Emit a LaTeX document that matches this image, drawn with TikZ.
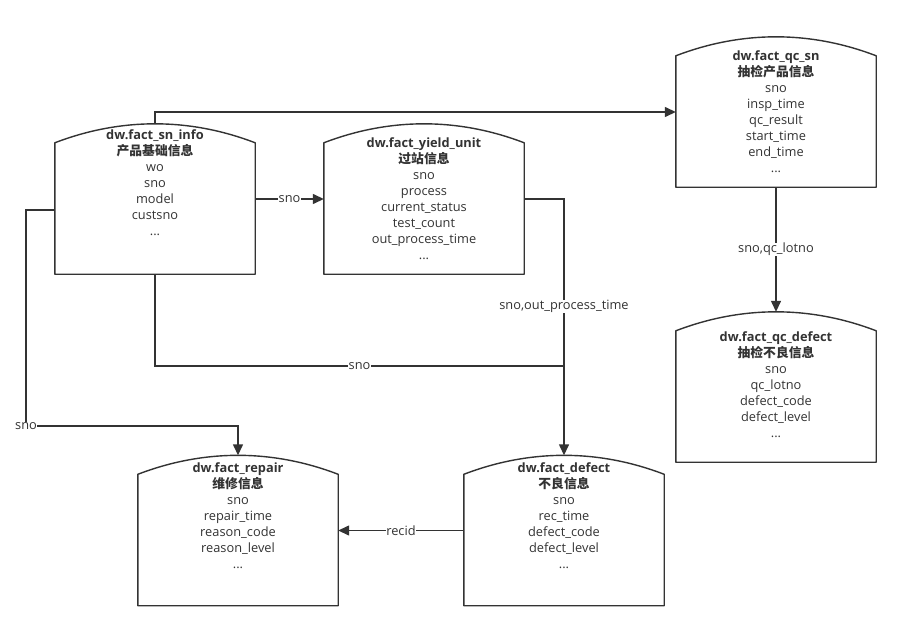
\documentclass[tikz,border=0pt]{standalone}
\usepackage{fontspec}
\setmainfont{Open Sans}
\newfontfamily\cjk{Noto Sans CJK SC}
\usepackage{tikz}
\usetikzlibrary{arrows.meta,calc}
\definecolor{linegray}{HTML}{333333}
\definecolor{txtgray}{HTML}{333333}
\newcommand{\tblfont}{\fontsize{12.8}{16}\selectfont}

\begin{document}
\begin{tikzpicture}[x=1pt,y=-1pt,
  tbl/.style={minimum width=200pt,minimum height=150pt,inner sep=0pt},
  tbltext/.style={anchor=north,align=center,inner sep=0pt,font=\tblfont,text=txtgray},
  tblline/.style={draw=linegray,line width=1.4pt,line join=round},
  wire/.style={draw=linegray,line width=1.4pt},
  conn/.style={wire,-{Triangle[length=11pt,width=10pt]}},
  lbl/.style={fill=white,inner sep=0.5pt,font=\tblfont,text=txtgray}]
\fill[white] (0,0) rectangle (901,631);
\useasboundingbox (0,0) rectangle (901,631);

\node[tbl,label={[tbltext,yshift=-6pt]north:{\textbf{dw.fact\_sn\_info}\\{\cjk\bfseries 产品基础信息}\\wo\\sno\\model\\custsno\\...}}] (sninfo) at (155,199) {};
\node[tbl,label={[tbltext,yshift=-14pt]north:{\textbf{dw.fact\_yield\_unit}\\{\cjk\bfseries 过站信息}\\sno\\process\\current\_status\\test\_count\\out\_process\_time\\...}}] (yield) at (424,199) {};
\node[tbl,label={[tbltext,yshift=-14pt]north:{\textbf{dw.fact\_qc\_sn}\\{\cjk\bfseries 抽检产品信息}\\sno\\insp\_time\\qc\_result\\start\_time\\end\_time\\...}}] (qcsn) at (776,112) {};
\node[tbl,label={[tbltext,yshift=-20pt]north:{\textbf{dw.fact\_qc\_defect}\\{\cjk\bfseries 抽检不良信息}\\sno\\qc\_lotno\\defect\_code\\defect\_level\\...}}] (qcdefect) at (776,387) {};
\node[tbl,label={[tbltext,yshift=-7.5pt]north:{\textbf{dw.fact\_repair}\\{\cjk\bfseries 维修信息}\\sno\\repair\_time\\reason\_code\\reason\_level\\...}}] (repair) at (238,530.5) {};
\node[tbl,label={[tbltext,yshift=-7pt]north:{\textbf{dw.fact\_defect}\\{\cjk\bfseries 不良信息}\\sno\\rec\_time\\defect\_code\\defect\_level\\...}}] (defect) at (564,530.5) {};

\foreach \n in {sninfo,yield,qcsn,qcdefect,repair,defect}
  \draw[tblline] ([yshift=-19pt]\n.north west) .. controls +(66,-25.3) and +(-66,-25.3) .. ([yshift=-19pt]\n.north east) -- (\n.south east) -- (\n.south west) -- cycle;

\coordinate (snleft) at (26,426);
\coordinate (snjoin) at (564,366);

\draw[conn] (sninfo.north) |- (qcsn);
\draw[conn] (sninfo) -- node[lbl]{sno} (yield);
\draw[conn] ([yshift=-11pt]sninfo.west) -| (snleft) node[lbl]{sno} -| (repair.north);
\draw[wire] (sninfo.south) |- node[lbl,pos=0.75]{sno} (snjoin);
\draw[conn] (yield.east) -| node[lbl,pos=0.71]{sno,out\_process\_time} (defect.north);
\draw[conn] (qcsn) -- node[lbl]{sno,qc\_lotno} (qcdefect);
\draw[conn] (defect) -- node[lbl]{recid} (repair);
\end{tikzpicture}
\end{document}
